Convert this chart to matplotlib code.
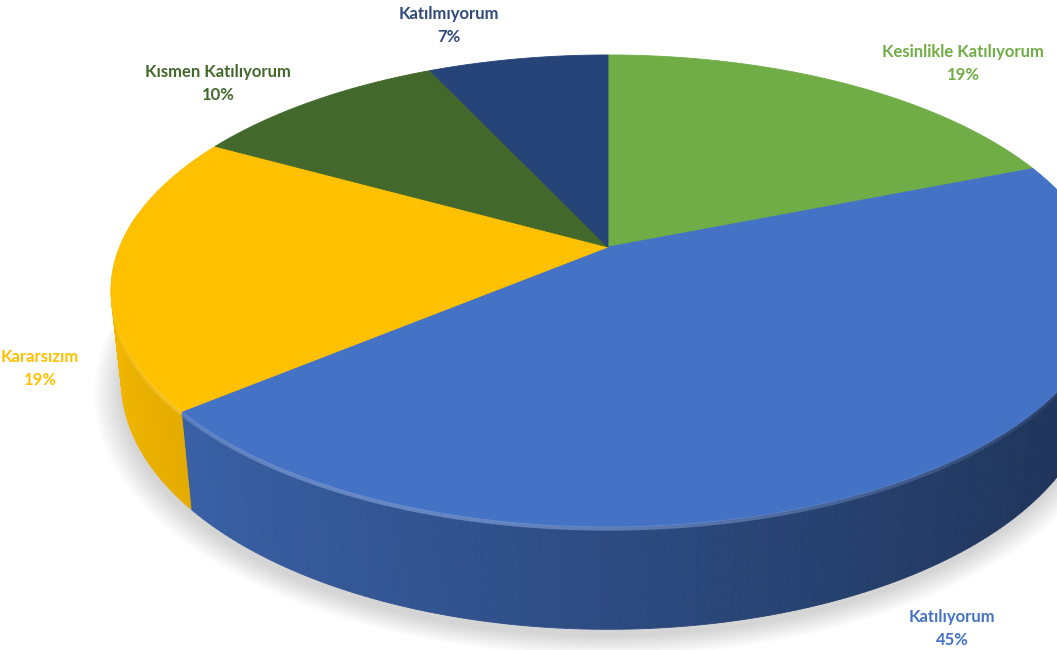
import numpy as np
import matplotlib
matplotlib.use("Agg")
import matplotlib.pyplot as plt
from matplotlib.colors import to_rgb

# data (clockwise from 12 o'clock)
labels = ["Kesinlikle Katılıyorum", "Katılıyorum", "Kararsızım", "Kısmen Katılıyorum", "Katılmıyorum"]
values = [19, 45, 19, 10, 7]
colors = ["#70AD47", "#4472C4", "#FFC000", "#43682B", "#264478"]
text_colors = ["#70AD47", "#4472C4", "#FFC000", "#43682B", "#2F4A7A"]

# label anchor points in pixels
label_pos = [(963, 52), (952, 617), (40, 357), (218, 72), (449, 14)]

# camera setup (pixels)
CX, CY = 608, 247
D, R, H = 1.0, 0.21, 0.0445
ELEV = np.radians(27.8)
F = 2325
sin_e, cos_e = np.sin(ELEV), np.cos(ELEV)


def project(r, phi, z):
    u = r * np.cos(phi)
    v = r * np.sin(phi)
    depth = D + v * cos_e - z * sin_e
    sx = CX + F * u / depth
    sy = CY - F * (v * sin_e + z * cos_e) / depth
    return sx, sy


def shade(c, f):
    rgb = np.array(to_rgb(c))
    return tuple(np.clip(rgb * f, 0, 1))


def lighten(c, f):
    rgb = np.array(to_rgb(c))
    return tuple(rgb + (1 - rgb) * f)


fig = plt.figure(figsize=(10.57, 6.5), dpi=100)
ax = fig.add_axes([0, 0, 1, 1])
ax.set_xlim(0, 1057)
ax.set_ylim(650, 0)
ax.axis("off")

total = float(sum(values))
bounds = [np.pi / 2]
for v in values:
    bounds.append(bounds[-1] - 2 * np.pi * v / total)

# soft shadow under the pie
phis = np.linspace(0, 2 * np.pi, 240)
for k in range(14):
    rr = R * (1.0 + 0.004 * k)
    xs, ys = project(rr, phis, -H - 0.002)
    ax.fill(xs - 2, ys + 3, color="#000000", alpha=0.01, lw=0, zorder=1)

# outer side wall, drawn as thin strips
for i, v in enumerate(values):
    a0, a1 = bounds[i], bounds[i + 1]
    n = max(int(abs(a1 - a0) / np.radians(0.7)), 2)
    ph = np.linspace(a0, a1, n + 1)
    for p0, p1 in zip(ph[:-1], ph[1:]):
        pm = 0.5 * (p0 + p1)
        if np.sin(pm) > 0.15:
            continue
        x0, y0 = project(R, p0, 0)
        x1, y1 = project(R, p1, 0)
        x2, y2 = project(R, p1, -H)
        x3, y3 = project(R, p0, -H)
        f = 0.66 - 0.24 * np.cos(pm)
        if colors[i] == "#FFC000":
            f = min(1.0, f + 0.05)
        col = shade(colors[i], f)
        ax.fill([x0, x1, x2, x3], [y0, y1, y2, y3], color=col, lw=0.6, ec=col, zorder=2)

# top faces
for i, v in enumerate(values):
    a0, a1 = bounds[i], bounds[i + 1]
    ph = np.linspace(a0, a1, 200)
    xs, ys = project(R, ph, 0)
    xs = np.concatenate([[CX], xs])
    ys = np.concatenate([[CY], ys])
    ax.fill(xs, ys, color=colors[i], lw=0.6, ec=colors[i], zorder=3)

# bevel highlight on the front rim
for i, v in enumerate(values):
    a0, a1 = bounds[i], bounds[i + 1]
    ph = np.linspace(a0, a1, 120)
    for p0, p1 in zip(ph[:-1], ph[1:]):
        pm = 0.5 * (p0 + p1)
        s = -np.sin(pm)
        if s <= 0:
            continue
        w = s ** 1.5 * (0.25 + 0.75 * max(0.0, -np.cos(pm) * 0.6 + 0.5))
        xa, ya = project(R, np.array([p0, p1]), -0.0008)
        ax.plot(xa, ya, color=lighten(colors[i], 0.3), alpha=min(w, 0.85), lw=3,
                solid_capstyle="butt", zorder=4)

# labels
for i, lab in enumerate(labels):
    x, y = label_pos[i]
    pct = f"{values[i] / total * 100:.0f}%"
    ax.text(x, y, lab, ha="center", va="center", fontsize=12, fontweight="bold",
            family="Lato", color=text_colors[i], zorder=6)
    ax.text(x, y + 23, pct, ha="center", va="center", fontsize=12, fontweight="bold",
            family="Lato", color=text_colors[i], zorder=6)

fig.savefig("out.png", dpi=100, facecolor="white")
